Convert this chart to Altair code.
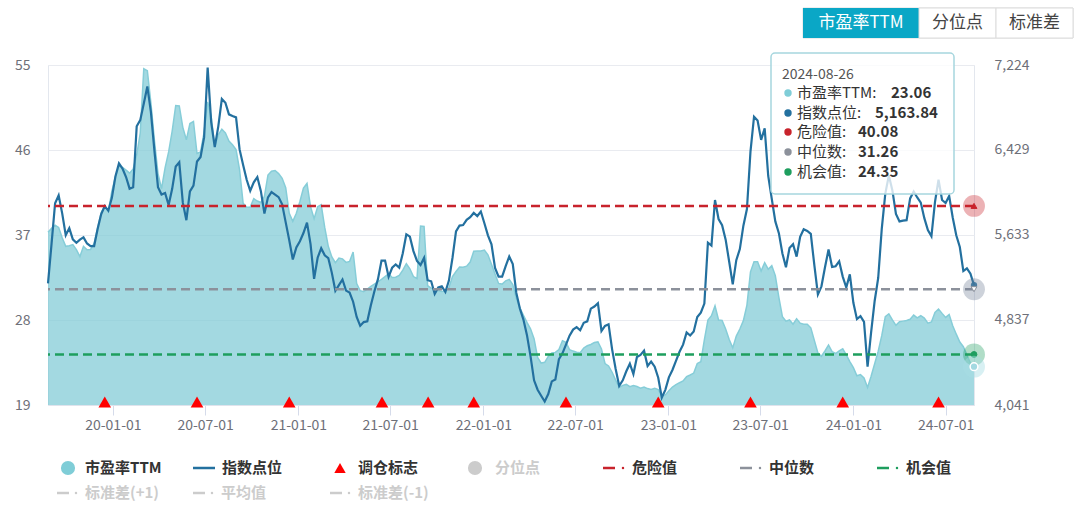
import altair as alt
import pandas as pd

FONT = "Noto Sans CJK SC"

# ---------------- data (weekly) ----------------
dates = pd.date_range("2019-08-26", "2024-08-26", freq="7D").strftime("%Y-%m-%d").tolist()

pe_ttm = [
    37.3, 37.7, 38.05, 37.8, 36.7, 35.8, 35.86, 35.99, 35.46, 34.72,
    35.8, 35.44, 35.47, 36.12, 37.78, 39.39, 40.09, 39.47, 41.63, 43.15,
    44.31, 44.16, 43.87, 43.55, 43.98, 45.47, 47.8, 54.6, 54.4, 51.0,
    47.0, 43.5, 41.9, 44.1, 45.8, 48.0, 50.7, 50.66, 48.4, 47.08,
    48.8, 49.03, 45.63, 45.8, 47.9, 51.1, 49.5, 46.35, 47.6, 48.2,
    47.8, 46.95, 46.55, 46.05, 43.9, 40.35, 39.93, 39.96, 40.85, 40.6,
    40.44, 41.1, 43.34, 43.76, 43.83, 43.5, 43.0, 42.0, 39.3, 38.45,
    39.3, 40.55, 41.97, 42.46, 40.0, 38.73, 40.0, 40.2, 37.8, 35.8,
    34.67, 34.07, 34.56, 34.47, 34.1, 34.2, 35.2, 31.86, 31.1, 31.0,
    31.28, 31.55, 31.8, 32.05, 32.3, 32.6, 32.9, 32.5, 32.53, 32.73,
    33.28, 33.96, 33.42, 32.6, 32.4, 37.95, 37.9, 31.63, 31.38, 31.24,
    31.13, 31.03, 31.08, 31.43, 32.6, 33.14, 33.61, 33.58, 33.7, 34.13,
    35.28, 35.31, 35.3, 35.4, 34.9, 33.9, 32.87, 31.87, 31.8, 32.15,
    32.3, 31.75, 30.27, 29.3, 28.5, 27.74, 27.07, 26.02, 24.04, 23.44,
    23.52, 24.14, 24.5, 24.57, 24.88, 25.8, 25.63, 24.86, 24.71, 24.58,
    24.53, 25.04, 25.27, 25.41, 25.62, 25.68, 24.93, 23.39, 23.14, 22.47,
    21.64, 20.87, 21.08, 21.18, 20.94, 21.07, 20.96, 20.79, 20.91, 20.74,
    20.64, 20.76, 20.64, 20.0, 20.07, 20.5, 20.9, 21.15, 21.36, 21.54,
    22.0, 22.18, 22.38, 23.4, 23.59, 25.9, 28.0, 28.46, 29.5, 28.0,
    27.96, 27.05, 25.94, 25.05, 26.3, 27.05, 27.93, 29.58, 33.1, 34.18,
    34.18, 33.18, 34.07, 33.38, 33.75, 32.7, 30.4, 28.36, 27.87, 28.0,
    27.56, 28.13, 27.66, 27.56, 27.56, 27.17, 25.84, 24.5, 24.16, 24.72,
    25.36, 24.65, 24.45, 24.74, 24.95, 24.3, 23.6, 22.95, 22.1, 22.22,
    21.87, 20.85, 22.05, 23.36, 24.7, 26.34, 28.35, 28.66, 28.02, 27.44,
    27.82, 27.88, 27.94, 28.08, 28.52, 28.23, 28.45, 28.2, 27.66, 27.8,
    28.8, 29.16, 28.7, 28.27, 28.57, 27.4, 26.5, 25.67, 25.17, 24.3,
    23.45, 23.06,
]

index_pts = [
    5180, 5550, 5930, 6003, 5835, 5630, 5697, 5592, 5560, 5589,
    5610, 5553, 5528, 5529, 5690, 5828, 5903, 5860, 5980, 6180,
    6303, 6255, 6175, 6066, 6080, 6650, 6708, 6863, 7023, 6785,
    6420, 6080, 6012, 6026, 5913, 6065, 6273, 6313, 5935, 5771,
    6041, 6095, 6321, 6363, 6546, 7200, 6690, 6455, 6650, 6906,
    6871, 6762, 6746, 6734, 6434, 6288, 6150, 6047, 6126, 6175,
    6043, 5833, 5985, 6034, 6010, 5987, 5920, 5751, 5583, 5403,
    5516, 5574, 5651, 5749, 5548, 5222, 5420, 5508, 5442, 5417,
    5278, 5110, 5163, 5216, 5112, 5093, 5008, 4866, 4782, 4817,
    4825, 4974, 5106, 5219, 5393, 5393, 5241, 5326, 5356, 5327,
    5461, 5638, 5617, 5482, 5390, 5352, 5418, 5209, 5199, 5081,
    5141, 5152, 5099, 5206, 5417, 5666, 5721, 5726, 5774, 5799,
    5839, 5810, 5852, 5743, 5629, 5546, 5324, 5242, 5242, 5342,
    5431, 5360, 5090, 4944, 4841, 4695, 4499, 4272, 4184, 4128,
    4074, 4144, 4262, 4280, 4469, 4525, 4607, 4690, 4747, 4770,
    4741, 4810, 4824, 4943, 4963, 4994, 4734, 4781, 4796, 4562,
    4378, 4220, 4272, 4357, 4428, 4331, 4490, 4510, 4550, 4406,
    4447, 4400, 4296, 4110, 4183, 4300, 4369, 4455, 4539, 4606,
    4720, 4691, 4729, 4864, 4905, 4990, 5560, 5533, 5960, 5782,
    5725, 5589, 5382, 5170, 5397, 5501, 5720, 5875, 6414, 6740,
    6704, 6523, 6630, 6185, 5970, 5760, 5650, 5460, 5330, 5510,
    5547, 5430, 5615, 5686, 5670, 5643, 5350, 5077, 5152, 5330,
    5496, 5334, 5340, 5386, 5243, 5141, 5264, 4998, 4845, 4872,
    4820, 4400, 4720, 5015, 5230, 5690, 6020, 6190, 6050, 5830,
    5760, 5767, 5771, 5975, 6040, 5984, 5936, 5790, 5678, 5620,
    5940, 6150, 5960, 5932, 5998, 5796, 5630, 5520, 5295, 5320,
    5270, 5163.84,
]

rebalance_dates = ["2019-12-16", "2020-06-15", "2020-12-14", "2021-06-15", "2021-09-14",
                   "2021-12-13", "2022-06-13", "2022-12-12", "2023-06-12", "2023-12-11",
                   "2024-06-17"]

level_names = ["危险值", "中位数", "机会值"]
level_values = [40.08, 31.26, 24.35]
level_colors = ["#c8232c", "#8c919b", "#1e9e5e"]
level_halo_colors = ["#c8232c", "#6f7d96", "#1e9e5e"]
level_core_shapes = ["triangle-up", "triangle-down", "circle"]
level_core_fills = ["#c8232c", "#ffffff", "#1e9e5e"]

pe_ticks = [19, 28, 37, 46, 55]
idx_ticks = [4041, 4837, 5633, 6429, 7224]
x_tick_months = [(2020, 1), (2020, 7), (2021, 1), (2021, 7), (2022, 1), (2022, 7),
                 (2023, 1), (2023, 7), (2024, 1), (2024, 7)]

last_date = "2024-08-26"

n = min(len(dates), len(pe_ttm), len(index_pts))
df = pd.DataFrame({"date": dates[:n], "pe": pe_ttm[:n], "idx": index_pts[:n]})
reb_df = pd.DataFrame({"date": rebalance_dates, "v": [19.32] * len(rebalance_dates)})
lvl_df = pd.DataFrame({"name": level_names, "v": level_values, "c": level_colors})
lvl_end = pd.DataFrame({"date": [last_date] * 3, "v": level_values, "c": level_halo_colors,
                        "s": level_core_shapes, "f": level_core_fills, "k": level_colors})

# ---------------- scales / axes ----------------
x_scale = alt.Scale(type="utc", nice=False,
                    domain=[alt.DateTime(year=2019, month=8, date=26, utc=True),
                            alt.DateTime(year=2024, month=8, date=26, utc=True)])
x_axis = alt.Axis(values=[alt.DateTime(year=y, month=m, date=1, utc=True) for y, m in x_tick_months],
                  format="%y-%m-%d", grid=False, domainColor="#dfe3ec", tickColor="#d5dbea",
                  tickSize=10, labelPadding=3, labelFontSize=14, labelColor="#6e7079",
                  labelFont=FONT, labelFlush=False, title=None)


def X():
    return alt.X("date:T", scale=x_scale, axis=x_axis, title=None)


pe_scale = dict(domain=[19, 55], nice=False, zero=False)
idx_scale = dict(domain=[4041, 7224], nice=False, zero=False)

area = alt.Chart(df).mark_area(
    color="#80cbd6", fillOpacity=0.72,
    line={"color": "#86cdd8", "strokeWidth": 1.5},
).encode(
    x=X(),
    y=alt.Y("pe:Q", scale=alt.Scale(**pe_scale),
            axis=alt.Axis(orient="left", values=pe_ticks, grid=True, gridColor="#e9ebf0",
                          domain=False, ticks=False, labelPadding=18, labelFontSize=14,
                          labelColor="#6e7079", labelFont=FONT, title=None)),
    y2=alt.datum(19),
)

line = alt.Chart(df).mark_line(color="#23709f", strokeWidth=2.2).encode(
    x=X(),
    y=alt.Y("idx:Q", scale=alt.Scale(**idx_scale),
            axis=alt.Axis(orient="right", values=idx_ticks, format=",.0f", grid=False,
                          domain=False, ticks=False, labelPadding=20, labelFontSize=14,
                          labelColor="#6e7079", labelFont=FONT, title=None)),
)

rules = alt.Chart(lvl_df).mark_rule(strokeDash=[9, 5], strokeWidth=2.5).encode(
    y=alt.Y("v:Q", scale=alt.Scale(**pe_scale), axis=None),
    color=alt.Color("c:N", scale=None),
)

tri = alt.Chart(reb_df).mark_point(shape="triangle-up", filled=True, color="#ff0000",
                                   size=160, opacity=1).encode(
    x=X(), y=alt.Y("v:Q", scale=alt.Scale(**pe_scale), axis=None))

pe_last = df.tail(1)
idx_dot = alt.Chart(pe_last).mark_point(shape="circle", filled=True, size=40,
                                        color="#23709f", opacity=0.9).encode(
    x=X(), y=alt.Y("idx:Q", scale=alt.Scale(**idx_scale), axis=None))

halo = alt.Chart(lvl_end).mark_point(shape="circle", filled=True, size=480, opacity=0.35).encode(
    x=X(), y=alt.Y("v:Q", scale=alt.Scale(**pe_scale), axis=None),
    color=alt.Color("c:N", scale=None))

halo_core = alt.Chart(lvl_end).mark_point(filled=True, size=34, opacity=1, strokeWidth=1).encode(
    x=X(), y=alt.Y("v:Q", scale=alt.Scale(**pe_scale), axis=None),
    shape=alt.Shape("s:N", scale=None),
    fill=alt.Fill("f:N", scale=None),
    stroke=alt.Stroke("k:N", scale=None))

pe_halo = alt.Chart(pe_last).mark_point(shape="circle", filled=True, size=480,
                                        color="#a9dde4", opacity=0.45).encode(
    x=X(), y=alt.Y("pe:Q", scale=alt.Scale(**pe_scale), axis=None))
pe_dot = alt.Chart(pe_last).mark_point(shape="circle", filled=True, size=60, fill="#a3d9e1",
                                       stroke="white", strokeWidth=1.5, opacity=1).encode(
    x=X(), y=alt.Y("pe:Q", scale=alt.Scale(**pe_scale), axis=None))

# ---------------- decorations (buttons, tooltip, legend) ----------------
dummy = pd.DataFrame({"d": [0]})


def rect(x1, x2, y1, y2, **kw):
    return alt.Chart(dummy).mark_rect(**kw).encode(
        x=alt.value(x1), x2=alt.value(x2), y=alt.value(y1), y2=alt.value(y2))


def text(x, y, s, size=15, color="#333333", weight="bold", align="left"):
    return alt.Chart(dummy).mark_text(text=s, font=FONT, fontSize=size, fontWeight=weight,
                                      color=color, align=align, baseline="middle").encode(
        x=alt.value(x), y=alt.value(y))


def hseg(x1, x2, y, color, width=2.5):
    return alt.Chart(dummy).mark_rule(color=color, strokeWidth=width).encode(
        x=alt.value(x1), x2=alt.value(x2), y=alt.value(y))


def dot(x, y, color, size, shape="circle"):
    return alt.Chart(dummy).mark_point(shape=shape, filled=True, color=color, size=size,
                                       opacity=1).encode(x=alt.value(x), y=alt.value(y))


deco = []
# buttons
deco += [
    rect(755, 1025, -57, -27, fill="white", stroke="#dcdcdc", strokeWidth=1),
    rect(755, 871, -57, -27, fill="#0aa7c6"),
    rect(871, 948, -57, -27, fill="white", stroke="#dcdcdc", strokeWidth=1),
    rect(948, 1025, -57, -27, fill="white", stroke="#dcdcdc", strokeWidth=1),
    text(813, -42, "市盈率TTM", size=17, color="white", weight="normal", align="center"),
    text(909.5, -42, "分位点", size=17, color="#444444", weight="normal", align="center"),
    text(986.5, -42, "标准差", size=17, color="#444444", weight="normal", align="center"),
]

# tooltip
tip_labels = ["市盈率TTM:", "指数点位:", "危险值:", "中位数:", "机会值:"]
tip_values = ["23.06", "5,163.84", "40.08", "31.26", "24.35"]
tip_colors = ["#7fcdd7", "#23709f", "#c8232c", "#8c919b", "#1e9e5e"]
tip_value_x = [843, 827, 810, 810, 810]
tip_y = [28, 48, 67, 87, 107]
deco += [
    rect(723, 906, -12, 129, fill="white", fillOpacity=0.78, stroke="#a6d6de",
         strokeWidth=1.5, cornerRadius=4),
    text(734, 10, "2024-08-26", size=14, color="#555555", weight="normal"),
]
for lab, val, col, vx, ty in zip(tip_labels, tip_values, tip_colors, tip_value_x, tip_y):
    deco += [dot(740, ty, col, 55),
             text(749, ty, lab, size=15, color="#333333", weight="normal"),
             text(vx, ty, val, size=15, color="#333333", weight="bold")]

# legend row 1
r1, r2 = 403, 428
deco += [
    dot(20, r1, "#7fcdd7", 200), text(37, r1, "市盈率TTM"),
    hseg(145, 167, r1, "#23709f", 2.5), text(174, r1, "指数点位"),
    dot(292, r1, "#ff0000", 130, shape="triangle-up"), text(310, r1, "调仓标志"),
    dot(427, r1, "#cccccc", 200), text(447, r1, "分位点", color="#cccccc"),
]
for x0, nm, col in zip([555, 692, 829], level_names, level_colors):
    deco += [hseg(x0, x0 + 12, r1, col, 2.5), dot(x0 + 20, r1, col, 6), text(x0 + 29, r1, nm)]
# legend row 2
for x0, nm in zip([9, 145, 282], ["标准差(+1)", "平均值", "标准差(-1)"]):
    deco += [hseg(x0, x0 + 12, r2, "#cccccc", 2.5), dot(x0 + 19, r2, "#cccccc", 6),
             text(x0 + 28, r2, nm, color="#cccccc")]

chart = alt.layer(
    area, line, rules, tri, idx_dot, halo, halo_core, pe_halo, pe_dot, *deco
).resolve_scale(y="independent").properties(
    width=926, height=340,
    autosize=alt.AutoSizeParams(type="none"),
    padding={"left": 48, "top": 65, "right": 106, "bottom": 102},
    background="white",
).configure_view(stroke="#e3e7ee", strokeWidth=1)

chart.save("out.html", embed_options={"renderer": "svg", "actions": False})
